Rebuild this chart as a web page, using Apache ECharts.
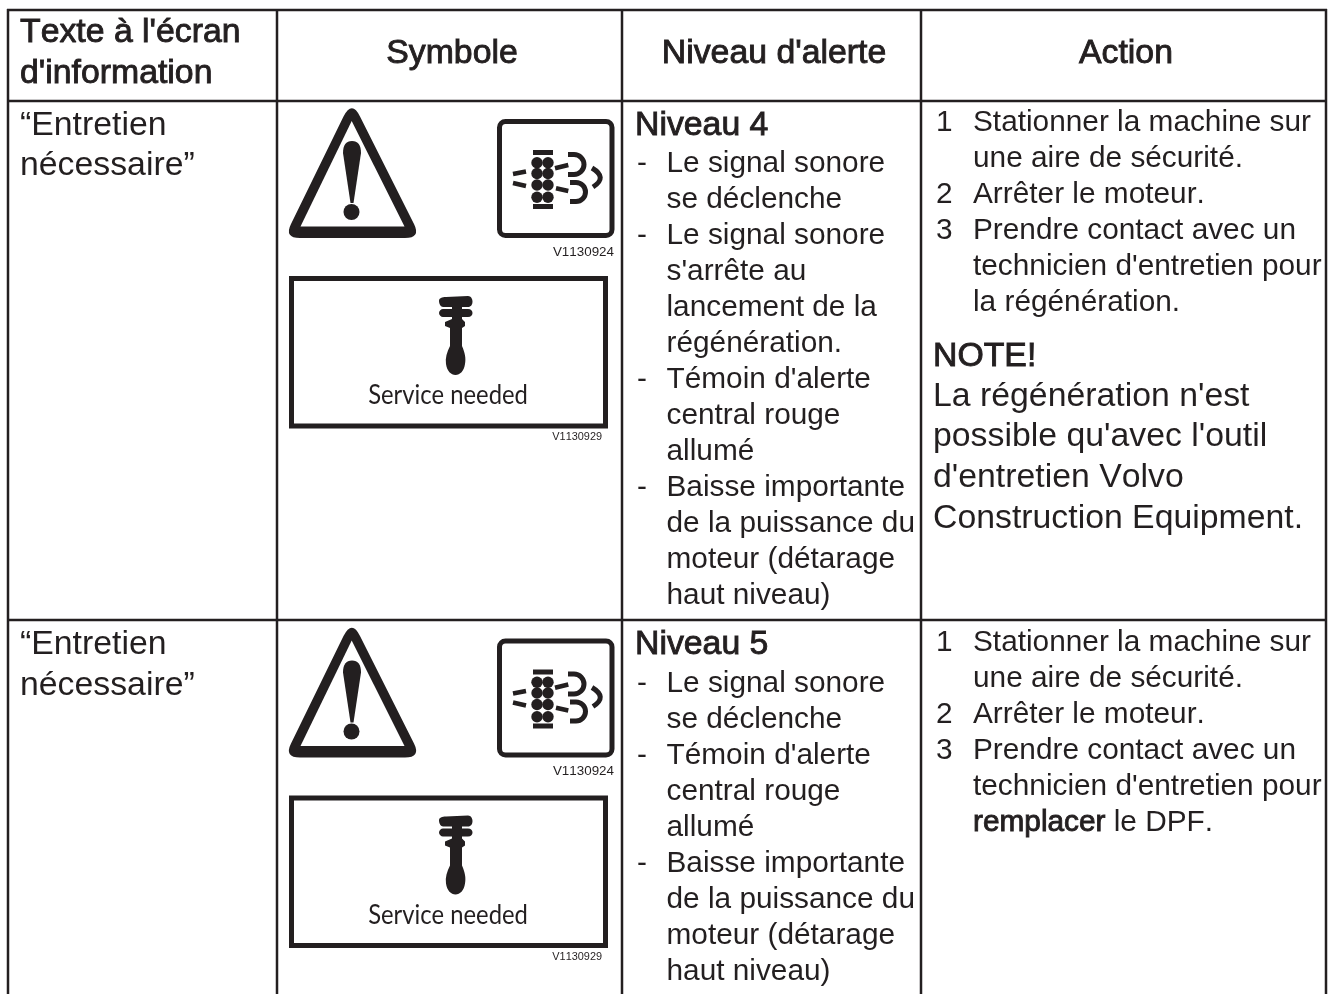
<!DOCTYPE html>
<html>
<head>
<meta charset="utf-8">
<title>Niveaux d'alerte</title>
<style>
html, body { margin: 0; padding: 0; background: #fff; }
#main { width: 1334px; height: 994px; }
</style>
<script src="https://cdn.jsdelivr.net/npm/echarts@6/dist/echarts.min.js"></script>
</head>
<body>
<div id="main"></div>
<script>
var headerFirst = ["Texte à l'écran", "d'information"];
var headerOthers = ["Symbole", "Niveau d'alerte", "Action"];
var screenText = ["“Entretien", "nécessaire”"];
var serviceLabel = "Service needed";
var engineCode = "V1130924";
var serviceCode = "V1130929";

var levelTitles = ["Niveau 4", "Niveau 5"];
var level4Items = [
    ["Le signal sonore", "se déclenche"],
    ["Le signal sonore", "s'arrête au", "lancement de la", "régénération."],
    ["Témoin d'alerte", "central rouge", "allumé"],
    ["Baisse importante", "de la puissance du", "moteur (détarage", "haut niveau)"]
];
var level5Items = [
    ["Le signal sonore", "se déclenche"],
    ["Témoin d'alerte", "central rouge", "allumé"],
    ["Baisse importante", "de la puissance du", "moteur (détarage", "haut niveau)"]
];
var actionSteps4 = [
    ["Stationner la machine sur", "une aire de sécurité."],
    ["Arrêter le moteur."],
    ["Prendre contact avec un", "technicien d'entretien pour", "la régénération."]
];
var actionSteps5 = [
    ["Stationner la machine sur", "une aire de sécurité."],
    ["Arrêter le moteur."],
    ["Prendre contact avec un", "technicien d'entretien pour", "{b|remplacer} le DPF."]
];
var noteTitle = "NOTE!";
var noteLines = ["La régénération n'est", "possible qu'avec l'outil", "d'entretien Volvo", "Construction Equipment."];

var INK = '#231f20';
var FONT = '"Liberation Sans", Arial, sans-serif';
var BIG = 33.8;
var SMALL = 29.8;
var graphics = [];
var shapeCount = 0;

// the reference text is set without pair kerning
var nativeGetContext = HTMLCanvasElement.prototype.getContext;
HTMLCanvasElement.prototype.getContext = function () {
    var ctx = nativeGetContext.apply(this, arguments);
    if (ctx && 'fontKerning' in ctx) {
        ctx.fontKerning = 'none';
    }
    return ctx;
};

function text(x, y, str, size, opts) {
    opts = opts || {};
    var style = {
        text: str,
        x: x,
        y: y,
        fill: INK,
        font: size + 'px ' + FONT,
        textAlign: opts.align || 'left',
        textVerticalAlign: 'middle'
    };
    if (opts.heavy) {
        style.stroke = INK;
        style.lineWidth = 0.9;
    }
    if (opts.rich) {
        style.rich = opts.rich;
    }
    return { type: 'text', silent: true, style: style };
}

function line(x1, y1, x2, y2) {
    return {
        type: 'line',
        silent: true,
        shape: { x1: x1, y1: y1, x2: x2, y2: y2 },
        style: { stroke: INK, lineWidth: 2.5 }
    };
}

// the graphic component has no 'path' type, so each outline is registered as its own shape
function shape(d, fill, stroke, width) {
    var name = 'iconShape' + (shapeCount++);
    echarts.graphic.registerShape(name, echarts.graphic.extendPath(d, {}));
    return {
        type: name,
        silent: true,
        shape: {},
        style: { fill: fill, stroke: stroke, lineWidth: width, lineJoin: 'round' }
    };
}

function circle(cx, cy, r) {
    return { type: 'circle', silent: true, shape: { cx: cx, cy: cy, r: r }, style: { fill: INK } };
}

function warningIcon() {
    return [
        shape('M343.5,116.5 Q352,100 360,116.5 L414,224 Q421,238 405,238 L300,238 Q284,238 291,224 Z', INK, null, 0),
        shape('M351.7,121 L404.5,226.5 L300.5,226.5 Z', '#fff', null, 0),
        shape('M343,153 C343,145 346,141 352,141 C358,141 361,145 361,153 L353.5,203 L350.5,203 Z', INK, null, 0),
        circle(351.5, 212, 8)
    ];
}

function engineIcon() {
    var els = [{
        type: 'rect',
        silent: true,
        shape: { x: 499.5, y: 121.5, width: 112.5, height: 114, r: 6 },
        style: { fill: '#fff', stroke: INK, lineWidth: 5 }
    }];
    els.push({ type: 'rect', silent: true, shape: { x: 533, y: 150, width: 20, height: 5 }, style: { fill: INK } });
    els.push({ type: 'rect', silent: true, shape: { x: 533, y: 204, width: 20, height: 5 }, style: { fill: INK } });
    [162.7, 173.5, 185, 197.3].forEach(function (cy) {
        els.push(circle(537, cy, 5.7));
        els.push(circle(548, cy, 5.7));
    });
    els.push(shape('M513,174 L526,171.5 M513,183 L526,186 M555,168.3 L568.3,165 M556,188.3 L568.3,191', null, INK, 4.5));
    els.push(shape('M568,154.5 L574,154.5 A10,10 0 0 1 574,174.5 L568,174.5 M570,182.5 L576,182.5 A9.5,9.5 0 0 1 576,201.5 L570,201.5 M592,168 Q608,177.5 593,187', null, INK, 5));
    return els;
}

function serviceIcon() {
    return [
        {
            type: 'rect',
            silent: true,
            shape: { x: 291.5, y: 278.5, width: 314, height: 147.5 },
            style: { fill: '#fff', stroke: INK, lineWidth: 5 }
        },
        shape('M439,301 C439,298 442,297 446,297 L468,296 C471,296 472.5,299 472.5,301.5 C472.5,304.5 471,307 468,307 L462,307 L462,309 L468,309 C471,309 472.5,311 472.5,313 C472.5,315 471,317 468,317 L462,317 L462,319 L465,322 L465,326 L462,328 L462,346 C465,353 466,358 465,364 C464,371 460,375 455.5,375 C451,375 447,371 446,364 C445,358 447,352 450,346 L450,328 L445,326 L445,322 L452,319 L452,317 L443,317 C441,317 439,315 439,313 C439,311 441,309 443,309 L452,309 L452,307 L443,307 C441,307 439,304 439,301 Z', INK, null, 0),
        {
            type: 'text',
            silent: true,
            x: 448,
            y: 396,
            scaleX: 0.915,
            style: { text: serviceLabel, x: 0, y: 0, fill: INK, font: '26px Lato, sans-serif', textAlign: 'center', textVerticalAlign: 'middle' }
        }
    ];
}

function codes() {
    return [
        text(614, 252, engineCode, 13.4, { align: 'right' }),
        text(602, 437, serviceCode, 10.9, { align: 'right' })
    ];
}

function listColumn(items, y) {
    var els = [];
    items.forEach(function (lines) {
        els.push(text(637, y, '-', SMALL));
        lines.forEach(function (str) {
            els.push(text(666.5, y, str, SMALL));
            y += 36;
        });
    });
    return els;
}

function stepsColumn(steps, y) {
    var els = [];
    var rich = { b: { fill: INK, stroke: INK, lineWidth: 0.9, font: SMALL + 'px ' + FONT } };
    steps.forEach(function (lines, i) {
        els.push(text(936, y, String(i + 1), SMALL));
        lines.forEach(function (str) {
            els.push(text(973, y, str, SMALL, { rich: rich }));
            y += 36;
        });
    });
    return els;
}

function rowElements(index, items, steps, withNote) {
    var dy = index * 519.5;
    var els = [];
    els = els.concat(
        text(20, 125.5, screenText[0], BIG),
        text(20, 166, screenText[1], BIG),
        warningIcon(),
        engineIcon(),
        serviceIcon(),
        codes(),
        text(635, 125.5, levelTitles[index], BIG, { heavy: true }),
        listColumn(items, 164),
        stepsColumn(steps, 123)
    );
    if (withNote) {
        els.push(text(933, 356.5, noteTitle, BIG, { heavy: true }));
        noteLines.forEach(function (str, i) {
            els.push(text(933, 396.5 + i * 40.6, str, BIG));
        });
    }
    return { type: 'group', x: 0, y: dy, children: els };
}

// table rules
[8, 277, 622, 921, 1326].forEach(function (x) {
    graphics.push(line(x, 9, x, 994));
});
[10, 101, 620].forEach(function (y) {
    graphics.push(line(7, y, 1327, y));
});

// header
graphics.push(text(20, 33, headerFirst[0], BIG, { heavy: true }));
graphics.push(text(20, 73.5, headerFirst[1], BIG, { heavy: true }));
[452, 774, 1126].forEach(function (x, i) {
    graphics.push(text(x, 54, headerOthers[i], BIG, { align: 'center', heavy: true }));
});

graphics.push(rowElements(0, level4Items, actionSteps4, true));
graphics.push(rowElements(1, level5Items, actionSteps5, false));

var chart = echarts.init(document.getElementById('main'));
chart.setOption({
    backgroundColor: '#fff',
    animation: false,
    graphic: { elements: graphics }
});
</script>
</body>
</html>
